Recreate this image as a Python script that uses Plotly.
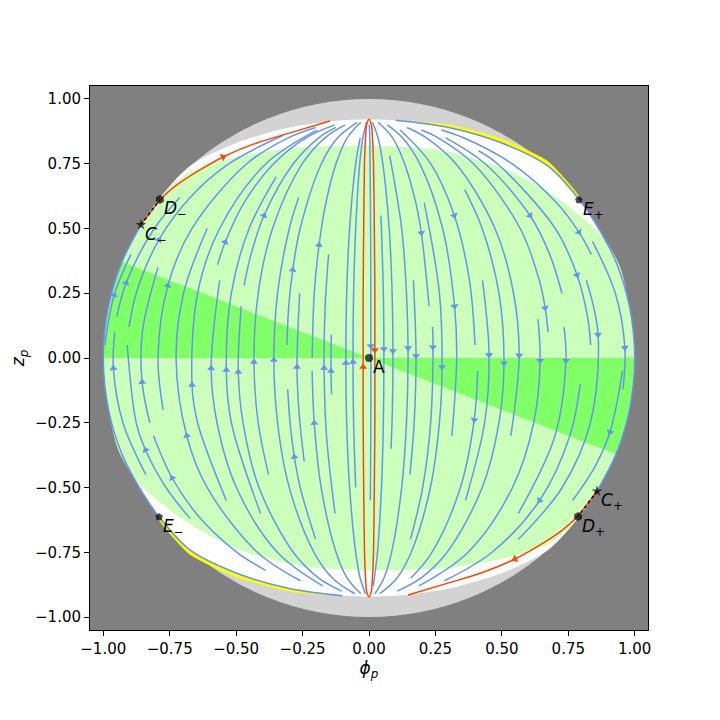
import math
import plotly.graph_objects as go

# ---- values, in (phi_p, z_p) ----

# edge of the white region (light grey shows between it and the unit circle)
white_edge = [(1.0, 0.0), (0.98, 0.2), (0.93, 0.37), (0.87, 0.49), (0.79, 0.614), (0.674, 0.741),
              (0.5, 0.83), (0.3, 0.89), (0.1, 0.918), (-0.1, 0.918), (-0.3, 0.89), (-0.5, 0.83),
              (-0.674, 0.741), (-0.79, 0.614), (-0.87, 0.49), (-0.93, 0.37), (-0.98, 0.2), (-1.0, 0.0),
              (-0.98, -0.2), (-0.93, -0.37), (-0.87, -0.49), (-0.79, -0.614), (-0.674, -0.741),
              (-0.5, -0.83), (-0.3, -0.89), (-0.1, -0.918), (0.1, -0.918), (0.3, -0.89), (0.5, -0.83),
              (0.674, -0.741), (0.79, -0.614), (0.87, -0.49), (0.93, -0.37), (0.98, -0.2), (1.0, 0.0)]

# light green region
green_edge = [(-0.787, 0.61), (-0.76, 0.649), (-0.674, 0.718), (-0.549, 0.764), (-0.297, 0.811),
              (0.004, 0.819), (0.256, 0.803), (0.504, 0.734), (0.708, 0.618), (0.881, 0.467),
              (0.945, 0.351), (0.98, 0.2), (1.0, 0.0), (0.98, -0.2), (0.93, -0.37), (0.86, -0.51),
              (0.787, -0.61), (0.76, -0.649), (0.674, -0.718), (0.549, -0.764), (0.297, -0.811),
              (-0.004, -0.819), (-0.256, -0.803), (-0.504, -0.734), (-0.708, -0.618), (-0.881, -0.467),
              (-0.945, -0.351), (-0.98, -0.2), (-1.0, 0.0), (-0.98, 0.2), (-0.93, 0.37), (-0.86, 0.51),
              (-0.787, 0.61)]

# darker green wedges
wedge_left = [(0.0, 0.0), (-0.928, 0.371), (-0.965, 0.26), (-0.99, 0.13), (-1.0, 0.0), (0.0, 0.0)]
wedge_right = [(0.0, 0.0), (0.928, -0.371), (0.965, -0.26), (0.99, -0.13), (1.0, 0.0), (0.0, 0.0)]

# yellow slivers just outside the white region
yellow_ur = [(0.12, 0.916), (0.3, 0.9), (0.5, 0.845), (0.674, 0.758), (0.79, 0.624),
             (0.79, 0.612), (0.674, 0.739), (0.5, 0.829), (0.3, 0.889), (0.12, 0.914)]
yellow_ll = [(-0.12, -0.916), (-0.3, -0.9), (-0.5, -0.845), (-0.674, -0.758), (-0.79, -0.624),
             (-0.79, -0.612), (-0.674, -0.739), (-0.5, -0.829), (-0.3, -0.889), (-0.12, -0.914)]

# streamlines running along the border
border_left = [(-0.858, 0.514), (-0.93, 0.37), (-0.98, 0.2), (-1.0, 0.0), (-0.98, -0.2), (-0.93, -0.37),
               (-0.87, -0.49), (-0.79, -0.614), (-0.674, -0.741), (-0.5, -0.83), (-0.3, -0.89), (-0.1, -0.918)]
border_right = [(0.1, 0.918), (0.3, 0.89), (0.5, 0.83), (0.674, 0.741), (0.79, 0.614), (0.87, 0.49),
                (0.93, 0.37), (0.98, 0.2), (1.0, 0.0), (0.98, -0.2), (0.93, -0.37), (0.858, -0.514)]

# streamlines on the left half (listed bottom to top, flow goes up)
left_lines = [
    [(-0.994, 0.05), (-0.959, 0.243), (-0.896, 0.40)],
    [(-0.840, -0.45), (-0.926, -0.25), (-0.962, -0.04), (-0.957, 0.10)],
    [(-0.949, 0.16), (-0.914, 0.29), (-0.808, 0.5), (-0.712, 0.62)],
    [(-0.673, -0.62), (-0.764, -0.5), (-0.841, -0.355), (-0.876, -0.25), (-0.910, 0.05)],
    [(-0.903, 0.12), (-0.876, 0.25), (-0.791, 0.456), (-0.673, 0.62), (-0.527, 0.75), (-0.323, 0.86)],
    [(-0.389, -0.82), (-0.497, -0.75), (-0.634, -0.62), (-0.741, -0.463), (-0.811, -0.30)],
    [(-0.825, -0.25), (-0.854, -0.093), (-0.853, 0.10), (-0.794, 0.35)],
    [(-0.775, -0.2), (-0.794, 0.0), (-0.757, 0.28), (-0.666, 0.5), (-0.460, 0.75), (-0.304, 0.85), (-0.201, 0.89)],
    [(-0.258, -0.86), (-0.420, -0.75), (-0.609, -0.5), (-0.686, -0.3), (-0.726, 0.0), (-0.698, 0.25), (-0.609, 0.5)],
    [(-0.537, -0.55), (-0.645, -0.25), (-0.666, -0.104), (-0.645, 0.25), (-0.562, 0.5), (-0.388, 0.75), (-0.196, 0.88)],
    [(-0.174, -0.88), (-0.345, -0.75), (-0.499, -0.5), (-0.572, -0.25), (-0.594, -0.04), (-0.562, 0.3)],
    [(-0.570, 0.36), (-0.541, 0.448), (-0.470, 0.6), (-0.359, 0.75), (-0.237, 0.85), (-0.129, 0.9)],
    [(-0.408, -0.6), (-0.518, -0.25), (-0.537, -0.046), (-0.518, 0.25), (-0.451, 0.5), (-0.349, 0.7)],
    [(-0.103, -0.9), (-0.189, -0.85), (-0.285, -0.75), (-0.414, -0.5), (-0.474, -0.25), (-0.492, -0.054), (-0.481, 0.2)],
    [(-0.470, 0.28), (-0.444, 0.4), (-0.395, 0.55), (-0.285, 0.75), (-0.189, 0.85), (-0.125, 0.89)],
    [(-0.378, -0.45), (-0.417, -0.25), (-0.433, -0.015), (-0.417, 0.25), (-0.363, 0.5), (-0.251, 0.75), (-0.166, 0.85), (-0.090, 0.9)],
    [(-0.053, -0.91), (-0.137, -0.85), (-0.207, -0.75), (-0.300, -0.5), (-0.344, -0.25), (-0.358, -0.008), (-0.344, 0.25), (-0.300, 0.5), (-0.265, 0.62)],
    [(-0.201, -0.7), (-0.259, -0.5), (-0.281, -0.382), (-0.297, -0.25), (-0.306, -0.12)],
    [(-0.309, 0.05), (-0.302, 0.2), (-0.287, 0.34), (-0.259, 0.5), (-0.179, 0.75), (-0.118, 0.85), (-0.045, 0.91)],
    [(-0.244, -0.4), (-0.264, -0.2), (-0.271, -0.035), (-0.261, 0.25)],
    [(-0.031, -0.91), (-0.082, -0.85), (-0.124, -0.75), (-0.180, -0.5), (-0.206, -0.251), (-0.214, -0.05)],
    [(-0.214, 0.0), (-0.206, 0.25), (-0.188, 0.436), (-0.162, 0.6), (-0.124, 0.75), (-0.082, 0.85), (-0.031, 0.91)],
    [(-0.128, -0.6), (-0.160, -0.3), (-0.169, -0.039), (-0.165, 0.2), (-0.152, 0.4)],
    [(-0.141, -0.14), (-0.143, -0.05), (-0.142, 0.09)],
    [(-0.013, -0.91), (-0.033, -0.85), (-0.050, -0.75), (-0.073, -0.5), (-0.084, -0.25), (-0.087, -0.019), (-0.084, 0.25), (-0.073, 0.5), (-0.050, 0.75), (-0.033, 0.85)],
    [(-0.050, -0.5), (-0.058, -0.25), (-0.060, -0.015), (-0.058, 0.25), (-0.050, 0.5), (-0.035, 0.75), (-0.023, 0.85), (-0.009, 0.91)],
]
left_arrow = [1, 2, 1, 2, 2, 3, 1, 2, 3, 2, 4, 1, 2, 5, 2, 2, 5, 2, 2, 2, 4, 2, 2, 1, 5, 2]

# streamlines on the right half (listed top to bottom, flow goes down)
right_lines = [
    [(0.001, 0.9), (0.003, 0.85), (0.004, 0.75), (0.006, 0.5), (0.007, 0.25), (0.007, 0.046), (0.007, -0.25), (0.005, -0.55)],
    [(0.045, 0.55), (0.054, 0.25), (0.056, 0.035), (0.054, -0.25), (0.047, -0.5), (0.032, -0.75), (0.016, -0.88)],
    [(0.013, 0.91), (0.034, 0.85), (0.052, 0.75), (0.076, 0.5), (0.087, 0.25), (0.090, 0.027), (0.088, -0.2), (0.083, -0.35)],
    [(0.078, 0.78), (0.123, 0.5), (0.141, 0.25), (0.147, 0.039), (0.141, -0.25), (0.123, -0.5), (0.085, -0.75), (0.056, -0.85), (0.022, -0.91)],
    [(0.167, 0.3), (0.177, 0.008), (0.170, -0.25), (0.154, -0.45)],
    [(0.034, 0.91), (0.089, 0.85), (0.134, 0.75), (0.176, 0.6), (0.197, 0.483), (0.226, 0.2)],
    [(0.239, 0.12), (0.241, 0.042), (0.232, -0.25), (0.202, -0.5), (0.156, -0.7)],
    [(0.208, 0.6), (0.265, 0.25), (0.275, -0.035), (0.265, -0.25), (0.231, -0.5), (0.159, -0.75), (0.105, -0.85), (0.040, -0.91)],
    [(0.069, 0.9), (0.126, 0.85), (0.191, 0.75), (0.277, 0.5), (0.322, 0.2), (0.330, 0.0), (0.312, -0.3)],
    [(0.409, -0.05), (0.396, -0.239), (0.344, -0.5), (0.237, -0.75), (0.157, -0.85)],
    [(0.117, 0.88), (0.232, 0.75), (0.321, 0.55), (0.378, 0.3), (0.399, 0.05)],
    [(0.427, 0.3), (0.452, 0.012), (0.435, -0.25), (0.363, -0.55)],
    [(0.360, 0.65), (0.426, 0.5), (0.489, 0.25), (0.508, -0.02), (0.489, -0.25), (0.426, -0.5), (0.294, -0.75), (0.195, -0.85), (0.106, -0.9)],
    [(0.143, 0.89), (0.216, 0.85), (0.327, 0.75), (0.474, 0.5), (0.544, 0.25), (0.565, 0.01), (0.534, -0.3)],
    [(0.636, 0.15), (0.644, -0.01), (0.620, -0.25), (0.540, -0.5), (0.373, -0.75), (0.188, -0.88)],
    [(0.198, 0.88), (0.260, 0.85), (0.393, 0.75), (0.569, 0.5), (0.641, 0.3), (0.663, 0.193), (0.674, 0.1)],
    [(0.734, 0.12), (0.741, -0.01), (0.700, -0.3), (0.562, -0.6)],
    [(0.289, 0.85), (0.437, 0.75), (0.606, 0.55), (0.680, 0.4), (0.726, 0.25)],
    [(0.412, 0.8), (0.483, 0.75), (0.701, 0.5), (0.783, 0.32), (0.824, 0.15), (0.834, 0.05)],
    [(0.818, 0.3), (0.862, 0.09), (0.833, -0.25), (0.727, -0.5), (0.562, -0.7)],
    [(0.954, -0.05), (0.907, -0.286), (0.850, -0.42), (0.766, -0.55)],
    [(0.841, 0.45), (0.927, 0.25), (0.963, 0.04), (0.956, -0.12)],
    [(0.272, 0.88), (0.356, 0.85), (0.538, 0.75), (0.705, 0.6), (0.790, 0.486), (0.837, 0.4)],
    [(0.795, -0.1), (0.756, -0.3), (0.642, -0.55), (0.463, -0.75), (0.284, -0.86)],
]
right_arrow = [5, 2, 5, 3, 1, 4, 1, 2, 4, 1, 2, 1, 3, 5, 1, 5, 1, 2, 3, 1, 1, 2, 4, 2]

# orange orbits (in flow direction)
orange_loop = [(0.0, 0.922), (0.009, 0.9), (0.013, 0.85), (0.017, 0.75), (0.020, 0.5), (0.022, 0.25),
               (0.022, 0.031), (0.022, -0.25), (0.020, -0.5), (0.017, -0.75), (0.013, -0.85), (0.009, -0.9),
               (0.0, -0.922), (-0.009, -0.9), (-0.013, -0.85), (-0.017, -0.75), (-0.020, -0.5), (-0.022, -0.25),
               (-0.022, -0.035), (-0.022, 0.25), (-0.020, 0.5), (-0.017, 0.75), (-0.013, 0.85), (-0.009, 0.9),
               (0.0, 0.922)]
orange_loop_arrow = [6, 18]
orange_ul = [(-0.858, 0.514), (-0.779, 0.618), (-0.723, 0.668), (-0.636, 0.726), (-0.549, 0.776),
             (-0.422, 0.830), (-0.297, 0.869), (-0.147, 0.915)]
orange_lr = [(0.858, -0.514), (0.779, -0.618), (0.723, -0.668), (0.636, -0.726), (0.549, -0.776),
             (0.422, -0.830), (0.297, -0.869), (0.147, -0.915)]
orange_arc_arrow = 4

# fixed points
pt_names = ["A", "C-", "D-", "E+", "C+", "D+", "E-"]
pt_phi = [0.0, -0.858, -0.787, 0.79, 0.858, 0.787, -0.79]
pt_z = [0.0, 0.514, 0.612, 0.61, -0.514, -0.612, -0.614]

# ---- figure ----
W, H = 720, 720
ml, mr, mt, mb = 82, 80, 78, 98   # the page body adds 8 px on the top/left
xr = [-1.05, 1.05]
yr = [-1.05, 1.05]
sx = (W - ml - mr) / (xr[1] - xr[0])
sy = (H - mt - mb) / (yr[1] - yr[0])

BLUE = "#6495ED"
ORANGE = "#FF4500"


def xs(pts):
    return [p[0] for p in pts]


def ys(pts):
    return [p[1] for p in pts]


def heading(a, b):
    # clockwise degrees from "up", measured on screen
    return math.degrees(math.atan2((b[0] - a[0]) * sx, (b[1] - a[1]) * sy))


def arrow_at(pts, k):
    a = pts[max(k - 1, 0)]
    b = pts[min(k + 1, len(pts) - 1)]
    return pts[k][0], pts[k][1], heading(a, b)


fig = go.Figure()

# light grey unit disk
fig.add_shape(type="circle", xref="x", yref="y", x0=-1, y0=-1, x1=1, y1=1,
              fillcolor="#d3d3d3", line=dict(width=0), layer="below")

fig.add_trace(go.Scatter(x=xs(white_edge), y=ys(white_edge), mode="lines", fill="toself",
                         fillcolor="white", line=dict(width=0, shape="spline", smoothing=0.8),
                         hoverinfo="skip"))
for yl in (yellow_ur, yellow_ll):
    fig.add_trace(go.Scatter(x=xs(yl), y=ys(yl), mode="lines", fill="toself", fillcolor="#ffff00",
                             line=dict(color="#ffff00", width=0.5, shape="spline", smoothing=0.6),
                             hoverinfo="skip"))
fig.add_trace(go.Scatter(x=xs(green_edge), y=ys(green_edge), mode="lines", fill="toself",
                         fillcolor="#ccffbb", line=dict(width=0, shape="spline", smoothing=0.7),
                         hoverinfo="skip"))
for wd in (wedge_left, wedge_right):
    fig.add_trace(go.Scatter(x=xs(wd), y=ys(wd), mode="lines", fill="toself",
                             fillcolor="#80ff66", line=dict(width=0), hoverinfo="skip"))

# streamlines
sxs, sys_ = [], []
ax, ay, aa = [], [], []
for lines, arrows in ((left_lines, left_arrow), (right_lines, right_arrow)):
    for pts, k in zip(lines, arrows):
        sxs += xs(pts) + [None]
        sys_ += ys(pts) + [None]
        x, y, a = arrow_at(pts, k)
        ax.append(x)
        ay.append(y)
        aa.append(a)
for b in (border_left, border_right):
    sxs += xs(b) + [None]
    sys_ += ys(b) + [None]
fig.add_trace(go.Scatter(x=sxs, y=sys_, mode="lines", connectgaps=False,
                         line=dict(color=BLUE, width=1.5, shape="spline", smoothing=1), hoverinfo="skip"))
fig.add_trace(go.Scatter(x=ax, y=ay, mode="markers",
                         marker=dict(symbol="triangle-up", size=7, angle=aa, color=BLUE, line=dict(width=0)),
                         hoverinfo="skip"))

# orange orbits
oxs, oys = [], []
oax, oay, oaa = [], [], []
for pts in (orange_loop, orange_ul, orange_lr):
    oxs += xs(pts) + [None]
    oys += ys(pts) + [None]
for k in orange_loop_arrow:
    x, y, a = arrow_at(orange_loop, k)
    oax.append(x); oay.append(y); oaa.append(a)
for pts in (orange_ul, orange_lr):
    x, y, a = arrow_at(pts, orange_arc_arrow)
    oax.append(x); oay.append(y); oaa.append(a)
fig.add_trace(go.Scatter(x=oxs, y=oys, mode="lines", connectgaps=False,
                         line=dict(color=ORANGE, width=1.5, shape="spline", smoothing=0.8), hoverinfo="skip"))
fig.add_trace(go.Scatter(x=oax, y=oay, mode="markers",
                         marker=dict(symbol="triangle-up", size=7, angle=oaa, color=ORANGE, line=dict(width=0)),
                         hoverinfo="skip"))

# short dotted black pieces between C and D
for i, j in ((1, 2), (4, 5)):
    fig.add_trace(go.Scatter(x=[pt_phi[i], pt_phi[j]], y=[pt_z[i], pt_z[j]], mode="lines",
                             line=dict(color="black", width=1.5, dash="dot"), hoverinfo="skip"))

symbol_for = {"A": "circle", "C": "star", "D": "hexagon", "E": "pentagon"}
size_for = {"A": 8, "C": 8, "D": 9, "E": 8}
fig.add_trace(go.Scatter(x=pt_phi, y=pt_z, mode="markers",
                         marker=dict(symbol=[symbol_for[n[0]] for n in pt_names],
                                     size=[size_for[n[0]] for n in pt_names],
                                     color="black", line=dict(width=0)),
                         hoverinfo="skip"))

for n, x, y in zip(pt_names, pt_phi, pt_z):
    if len(n) == 1:
        txt = n
    else:
        txt = "<i>%s</i><sub>%s</sub>" % (n[0], "−" if n[1] == "-" else "+")
    fig.add_annotation(x=x, y=y, text=txt, showarrow=False, xanchor="left", yanchor="top",
                       xshift=2, yshift=3, font=dict(size=17, color="black"))

ticks = [-1.0, -0.75, -0.5, -0.25, 0.0, 0.25, 0.5, 0.75, 1.0]
axis = dict(tickvals=ticks, tickformat=".2f", ticks="outside", ticklen=5, tickwidth=1,
            tickcolor="black", showline=True, linecolor="black", linewidth=1, mirror=True,
            showgrid=False, zeroline=False, automargin=False,
            tickfont=dict(size=15, color="black"))
fig.update_xaxes(**axis)
fig.update_yaxes(**axis)
fig.update_xaxes(range=xr, title=dict(text="<i>ϕ</i><sub><i>p</i></sub>", font=dict(size=17), standoff=5))
fig.update_yaxes(range=yr, title=dict(text="<i>z</i><sub><i>p</i></sub>", font=dict(size=17), standoff=8))

fig.update_layout(width=W, height=H, margin=dict(l=ml, r=mr, t=mt, b=mb, autoexpand=False),
                  plot_bgcolor="#808080", paper_bgcolor="white", showlegend=False,
                  font=dict(family="DejaVu Sans", color="black"))

fig.write_html("out.html")
